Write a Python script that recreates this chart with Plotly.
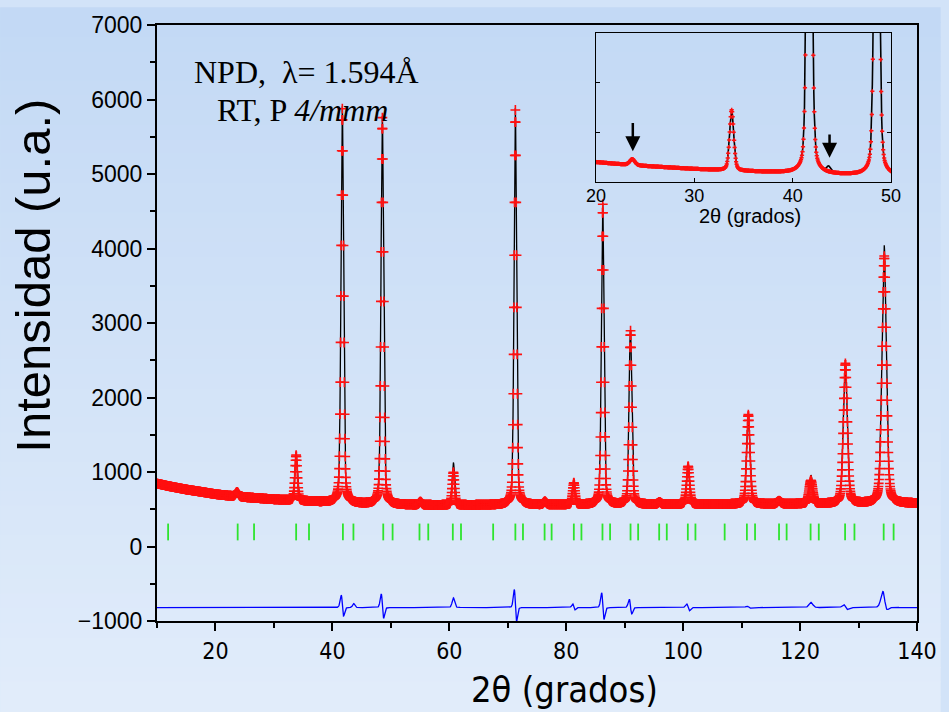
import numpy as np
import plotly.graph_objects as go

# ---------------- data ----------------
# background level of the pattern (2theta, counts)
bg_x = [10, 12, 15, 18, 20, 22, 25, 30, 35, 40, 45, 50, 60, 70, 80, 90, 100, 110, 120, 130, 140]
bg_y = [845, 810, 765, 728, 702, 684, 662, 632, 610, 590, 572, 560, 555, 558, 560, 562, 565, 568, 572, 575, 578]

# calculated profile (red crosses): position, amplitude above background, FWHM
calc_pos = [23.70, 33.80, 41.70, 43.65, 48.55, 55.05, 60.70, 71.30, 76.35, 81.30, 86.25, 91.00, 95.95, 100.85, 111.15, 116.40, 121.85, 127.75, 134.40]
calc_amp = [60, 610, 5290, 0, 5190, 40, 440, 5300, 40, 290, 4030, 2330, 30, 510, 1200, 40, 310, 1880, 3320]
# observed profile (black line)
obs_pos = [23.70, 33.80, 41.69, 43.65, 48.538, 55.05, 60.70, 71.285, 76.35, 81.25, 86.233, 90.983, 95.95, 100.81, 111.145, 116.40, 121.85, 127.74, 134.38]
obs_amp = [65, 605, 5330, 55, 5220, 40, 570, 5340, 40, 305, 4060, 2350, 30, 515, 1210, 40, 380, 1890, 3470]
fwhm = [0.60, 0.50, 0.52, 0.45, 0.52, 0.55, 0.50, 0.50, 0.55, 0.50, 0.52, 0.55, 0.60, 0.60, 0.68, 0.70, 0.75, 0.80, 0.88]
eta = 0.3

# Bragg reflection positions (green ticks)
bragg = [11.9, 23.8, 26.6, 33.8, 36.0, 41.8, 43.6, 48.7, 50.3, 54.9, 56.4, 60.6, 62.0, 67.5,
         71.3, 72.6, 76.3, 77.5, 81.3, 82.6, 86.2, 87.5, 91.0, 92.3, 95.9, 97.2, 100.8, 102.1,
         107.1, 110.9, 112.3, 116.4, 117.7, 121.8, 123.2, 127.7, 129.3, 134.3, 136.0]
bragg_level = 195
diff_offset = -820

x_ticks = [20, 40, 60, 80, 100, 120, 140]
y_ticks = [-1000, 0, 1000, 2000, 3000, 4000, 5000, 6000, 7000]
inset_ticks = [20, 30, 40, 50]

# ---------------- profile construction ----------------
tt = np.round(np.arange(10.0, 140.0001, 0.05), 3)


def profile(pos, amp):
    y = np.interp(tt, bg_x, bg_y).astype(float)
    for p, a, w in zip(pos, amp, fwhm):
        u = (tt - p) / w
        y += a * (eta / (1 + 4 * u * u) + (1 - eta) * np.exp(-4 * np.log(2) * u * u))
    return y


calc = profile(calc_pos, calc_amp)
obs = profile(obs_pos, obs_amp)
diff = obs - calc + diff_offset

# ---------------- geometry helpers ----------------
W, H = 949, 712
ML, MR, MT, MB = 157, 22, 18, 91
PW, PH = W - ML - MR, H - MT - MB


def px(xp):
    return (xp - ML) / PW


def py(yp):
    return (H - MB - yp) / PH


fig = go.Figure()

# main traces
fig.add_trace(go.Scatter(x=tt, y=obs, mode="lines", line=dict(color="black", width=1.3),
                         showlegend=False, hoverinfo="skip"))
fig.add_trace(go.Scatter(x=tt, y=calc, mode="markers",
                         marker=dict(symbol="cross-thin", size=7, line=dict(color="#ff1010", width=1.6)),
                         showlegend=False, hoverinfo="skip"))
fig.add_trace(go.Scatter(x=bragg, y=[bragg_level] * len(bragg), mode="markers",
                         marker=dict(symbol="line-ns", size=12, line=dict(color="#2ee42e", width=1.8)),
                         showlegend=False, hoverinfo="skip"))
fig.add_trace(go.Scatter(x=tt, y=diff, mode="lines", line=dict(color="#0000ff", width=1.3),
                         showlegend=False, hoverinfo="skip"))

# inset traces
m = (tt >= 19.5) & (tt <= 50.5)
fig.add_trace(go.Scatter(x=tt[m], y=obs[m], mode="lines", line=dict(color="black", width=1.6),
                         xaxis="x2", yaxis="y2", showlegend=False, hoverinfo="skip"))
fig.add_trace(go.Scatter(x=tt[m], y=calc[m], mode="markers",
                         marker=dict(symbol="cross-thin", size=3, line=dict(color="#ff1010", width=1.5)),
                         xaxis="x2", yaxis="y2", showlegend=False, hoverinfo="skip"))

# gradient background
shapes = []
n = 48
top = np.array([195, 217, 245])
bot = np.array([226, 237, 251])
for i in range(n):
    y0p = i * H / n
    y1p = (i + 1) * H / n + 1
    c = top + (bot - top) * (i + 0.5) / n
    shapes.append(dict(type="rect", xref="paper", yref="paper", layer="below",
                       x0=px(-2), x1=px(W + 2), y0=py(y1p), y1=py(y0p),
                       fillcolor="rgb(%d,%d,%d)" % tuple(c.astype(int)), line=dict(width=0)))

narrow = "Liberation Sans Narrow, DejaVu Sans Condensed, Arial Narrow, sans-serif"
sans = "Liberation Sans, Arial, sans-serif"
serif = "Liberation Serif, Times New Roman, serif"

annotations = [
    dict(text="NPD,\u00a0\u00a0λ= 1.594Å", x=px(308), y=py(66), xref="paper", yref="paper",
         showarrow=False, font=dict(family=serif, size=32, color="black"), xanchor="center", yanchor="middle"),
    dict(text="RT, P <i>4/mmm</i>", x=px(304), y=py(104), xref="paper", yref="paper",
         showarrow=False, font=dict(family=serif, size=32, color="black"), xanchor="center", yanchor="middle"),
    dict(text="Intensidad (u.a.)", x=px(31), y=py(272), xref="paper", yref="paper", textangle=-90,
         showarrow=False, font=dict(family=sans, size=49, color="black"), xanchor="center", yanchor="middle"),
    dict(text="2θ (grados)", x=px(570), y=py(690), xref="paper", yref="paper",
         showarrow=False, font=dict(family=narrow, size=36, color="black"), xanchor="center", yanchor="middle"),
    dict(text="2θ (grados)", x=px(758), y=py(211), xref="paper", yref="paper",
         showarrow=False, font=dict(family=sans, size=20, color="black"), xanchor="center", yanchor="middle"),
    dict(text="", x=23.75, y=810, ax=23.75, ay=1110, xref="x2", yref="y2", axref="x2", ayref="y2",
         showarrow=True, arrowhead=2, arrowsize=1.2, arrowwidth=2.5, arrowcolor="black"),
    dict(text="", x=43.75, y=745, ax=43.75, ay=995, xref="x2", yref="y2", axref="x2", ayref="y2",
         showarrow=True, arrowhead=2, arrowsize=1.2, arrowwidth=2.5, arrowcolor="black"),
]

fig.update_layout(
    width=W, height=H,
    margin=dict(l=ML, r=MR, t=MT, b=MB),
    paper_bgcolor="rgb(210,227,248)",
    plot_bgcolor="rgba(0,0,0,0)",
    shapes=shapes,
    annotations=annotations,
    xaxis=dict(range=[10, 140], tickvals=x_ticks, ticks="outside", ticklen=8, tickwidth=2,
               minor=dict(dtick=10, tick0=0, ticks="outside", ticklen=5, tickwidth=2, tickcolor="black"),
               showline=True, linewidth=2, linecolor="black", mirror=True, showgrid=False, zeroline=False,
               tickfont=dict(family=narrow, size=23, color="black"), tickcolor="black"),
    yaxis=dict(range=[-1000, 7000], tickvals=y_ticks, ticks="outside", ticklen=8, tickwidth=2,
               minor=dict(dtick=500, tick0=0, ticks="outside", ticklen=5, tickwidth=2, tickcolor="black"),
               showline=True, linewidth=2, linecolor="black", mirror=True, showgrid=False, zeroline=False,
               tickfont=dict(family=sans, size=23, color="black"), tickcolor="black"),
    xaxis2=dict(domain=[px(601.7), px(900.7)], anchor="y2", range=[20, 50], tickvals=inset_ticks,
                ticks="inside", ticklen=4, tickwidth=1, tickcolor="black", ticklabelstandoff=-3,
                showline=True, linewidth=1.2, linecolor="black", mirror=True, showgrid=False, zeroline=False,
                tickfont=dict(family=sans, size=18, color="black")),
    yaxis2=dict(domain=[py(177), py(26)], anchor="x2", range=[500, 2000], tickvals=[1000, 1500],
                ticks="inside", ticklen=4, tickwidth=1, tickcolor="black", showticklabels=False,
                showline=True, linewidth=1.2, linecolor="black", mirror="ticks", showgrid=False, zeroline=False),
)

fig.write_html("out.html", config={"displayModeBar": False},
               post_script="document.body.style.margin='0px';document.body.style.padding='0px';"
                           "document.body.style.overflow='hidden';")
